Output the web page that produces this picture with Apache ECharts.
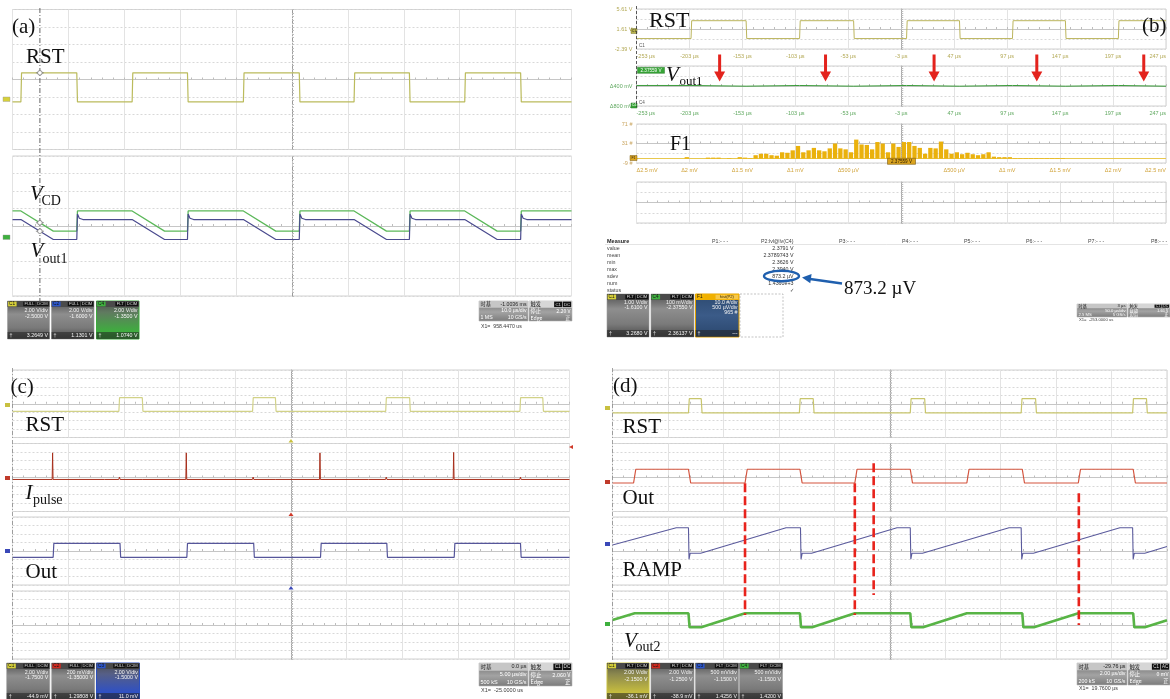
<!DOCTYPE html>
<html>
<head>
<meta charset="utf-8">
<script src="https://cdn.jsdelivr.net/npm/echarts@6/dist/echarts.min.js"></script>
<style>
html,body{margin:0;padding:0;background:#fff;}
#chart{width:1170px;height:699px;}
</style>
</head>
<body>
<div id="chart"></div>
<script>
// ======================= DATA =======================
// (a) 10 µs/div, time measured from the left screen edge (µs), volts
const A_T_END_US = 100;
const A_RST_RISE_US = [1.5, 21.4, 41.3, 61.1, 80.9];
const A_RST_FALL_US = [11.5, 31.3, 51.3, 71.0, 90.9];
const A_RST_V = [-0.06, 3.26];          // low, high
const A_VCD_V = [0.77, 3.07];           // low, high
const A_VOUT1_V = [0.06, 2.34];         // low, high
const A_VOUT1_PEAK_V = 2.97;            // overshoot right after RST falls
const A_DISCHARGE_US = 5.8;             // length of the falling ramp after RST rises
const A_CURSOR_US = 4.9;
const A_SCALE = { rst: [2, -2.5], vout1: [2, -1.6], vcd: [2, -1.35] }; // [V/div, offset V]

// (b) 50 µs/div
const B_T_START_US = -253, B_T_END_US = 247;
const B_TIME_TICKS = ['-253 µs','-203 µs','-153 µs','-103 µs','-53 µs','-3 µs','47 µs','97 µs','147 µs','197 µs','247 µs'];
const B_RST_RISE_US = [-201.5, -99, 2, 102, 202];
const B_RST_FALL_US = [-149.5, -48, 52, 152];
const B_RST_V = [-0.3, 3.27];
const B_VOUT1_V = [2.386, 2.372];       // while RST low, while RST high
const B_ARROW_US = [-174.5, -74.5, 28, 125, 226];
const B_SCALE = { rst: [1, -1.61], vout1: [0.1, -2.3755] };
const B_RST_YTICKS = ['-2.39 V', '1.61 V', '5.61 V'];
const B_VOUT1_YTICKS = ['Δ800 mV', 'Δ400 mV', ''];
const B_HIST_YTICKS = ['-9 #', '31 #', '71 #'];
const B_HIST_XTICKS = ['Δ2.5 mV','Δ2 mV','Δ1.5 mV','Δ1 mV','Δ500 µV','','Δ500 µV','Δ1 mV','Δ1.5 mV','Δ2 mV','Δ2.5 mV'];
const B_HIST_FIRST_BIN_MV = -2.5, B_HIST_BIN_MV = 0.05;
const B_HIST_COUNT_RANGE = [-9, 71];
const B_HIST_COUNTS = [
  0,0,0,0,0,0,0,0,0,3,
  0,0,0,2,2,2,0,1,0,3,
  2,1,7,10,10,7,6,13,12,17,
  26,13,17,22,17,15,21,31,21,19,
  13,39,29,28,19,34,31,13,31,24,
  34,34,26,22,10,22,21,35,19,10,
  13,9,12,9,7,9,13,4,3,3,
  3,1,1,1,1,1,1,1,1,1,
  1,0,0,0,0,0,0,0,0,0,
  0,0,0,0,0,0,0,0,0,0];
const B_MEAS_COLS = ['P1:- - -','P2:lvl@lv(C4)','P3:- - -','P4:- - -','P5:- - -','P6:- - -','P7:- - -','P8:- - -'];
const B_MEAS_ROWS = ['value','mean','min','max','sdev','num','status'];
const B_MEAS_P2 = ['2.3791 V','2.3789743 V','2.3626 V','2.3940 V','873.2 µV','1.4360e+3','✓'];

// (c) 5 µs/div
const C_T_END_US = 50;
const C_RST_RISE_US = [9.55, 21.55, 33.5, 45.55];
const C_RST_FALL_US = [11.65, 23.6, 35.65, 47.6];
const C_RST_V = [-0.045, 3.19];
const C_IPULSE_BASE_V = 1.304;
const C_IPULSE_SPIKE_US = [3.6, 15.6, 27.6, 39.6];
const C_IPULSE_SPIKE_V = [1.93, 1.93, 1.93, 1.94];
const C_IPULSE_BLIP_US = [8.3, 9.6, 11.7, 17.0, 21.6, 23.7, 32.0, 33.55, 35.7, 45.6, 48.3];
const C_IPULSE_BLIP_V = [1.33, 1.36, 1.27, 1.33, 1.36, 1.27, 1.33, 1.36, 1.27, 1.36, 1.33];
const C_OUT_RISE_US = [3.65, 15.65, 27.65, 39.65];
const C_OUT_FALL_US = [9.65, 21.65, 33.6, 45.6];
const C_OUT_V = [0.011, 3.3];
const C_SCALE = { rst: [2, -1.75], ipulse: [0.2, -1.35], out: [2, -1.5] };

// (d) 2 µs/div
const D_T_END_US = 20;
const D_RST_RISE_US = [2.74, 6.74, 10.74, 14.74, 18.76];
const D_RST_FALL_US = [3.2, 7.24, 11.26, 15.26, 19.26];
const D_RST_V = [-0.036, 3.35];
const D_OUT_RISE_US = [0.76, 4.78, 8.74, 12.78, 16.8];
const D_OUT_FALL_US = [2.74, 6.76, 10.74, 14.78, 18.78];
const D_OUT_V = [-0.039, 3.19];
const D_RAMP_T_US = [0, 2.30, 2.74, 2.76, 2.80, 3.18, 6.26, 6.78, 6.80, 6.84, 7.18, 10.26, 10.74, 10.76, 10.80, 11.18, 14.30, 14.74, 14.76, 14.80, 15.18, 18.30, 18.76, 18.78, 18.82, 19.20, 20];
const D_RAMP_V    = [1.505, 2.52, 2.52, 0.665, 1.015, 1.015, 2.52, 2.52, 0.665, 1.015, 1.015, 2.52, 2.52, 0.665, 1.015, 1.015, 2.52, 2.52, 0.665, 1.015, 1.015, 2.52, 2.52, 0.665, 1.015, 1.015, 1.41];
const D_VOUT2_T_US = [0, 0.8, 2.74, 2.78, 3.2, 4.78, 6.76, 6.80, 7.2, 8.74, 10.74, 10.78, 11.2, 12.78, 14.78, 14.82, 15.2, 16.8, 18.78, 18.82, 19.2, 20];
const D_VOUT2_V    = [1.445, 1.84, 1.84, 1.015, 1.015, 1.84, 1.84, 1.015, 1.015, 1.84, 1.84, 1.015, 1.015, 1.84, 1.84, 1.015, 1.015, 1.84, 1.84, 1.015, 1.015, 1.43];
const D_MARK_US = [4.78, 8.74, 9.42, 16.82];
const D_MARK_TOP_OUT_V = [-0.13, -0.13, 4.59, -2.47];
const D_MARK_BOTTOM_VOUT2_V = [1.74, 1.74, 2.91, 1.15];
const D_SCALE = { rst: [2, -2.15], out: [2, -1.25], ramp: [0.5, -1.15], vout2: [0.5, -1.15] };

// ======================= LAYOUT / STYLE =======================
const SERIF = '"Liberation Serif", "Times New Roman", serif';
const SANS = '"Liberation Sans", Arial, sans-serif';
const CJK = '"Noto Sans CJK SC", "Liberation Sans", sans-serif';
const L = {
  a: { left: 12.5, width: 559, tops: [9.5, 156], heights: [140, 140] },
  b: { left: 636.5, width: 529.5, tops: [9, 66, 124, 182], heights: [40, 40, 39, 41] },
  c: { left: 12.5, width: 557, tops: [370, 443.5, 517, 591], heights: [67.5, 68, 68, 68] },
  d: { left: 612.5, width: 554.5, tops: [370, 443.5, 517, 591], heights: [67.5, 68, 68, 68] }
};

const grids = [], xAxes = [], yAxes = [], series = [], G = [];
const tickStyle = { color: '#bdbdbd', width: 1 };

function addGrid(p, i, o) {
  o = o || {};
  const gi = grids.length;
  grids.push({ left: p.left, top: p.tops[i], width: p.width, height: p.heights[i], show: true,
    backgroundColor: '#fff', borderColor: '#d0d0d0', borderWidth: 1, containLabel: false, outerBoundsMode: 'none' });
  const xDiv = xAxes.length, yDiv = yAxes.length;
  xAxes.push({ gridIndex: gi, type: 'value', min: -5, max: 5, interval: 1, position: 'bottom', silent: true,
    axisLine: { show: true, onZero: true, onZeroAxisIndex: yDiv, lineStyle: { color: '#c6c6c6', width: 1 } },
    axisTick: { show: true, inside: true, length: 2, lineStyle: tickStyle },
    minorTick: { show: true, splitNumber: 5, length: 2, lineStyle: tickStyle },
    axisLabel: { show: false },
    splitLine: { show: true, lineStyle: { color: '#e3e3e3', width: 1 } } });
  yAxes.push({ gridIndex: gi, type: 'value', min: -4, max: 4, interval: o.ystep || 1, position: 'left', silent: true,
    axisLine: { show: true, onZero: true, onZeroAxisIndex: xDiv, lineStyle: { color: o.vColor || '#b2b2b2', width: 1, type: o.vType || 'solid' } },
    axisTick: { show: true, inside: true, length: 2, lineStyle: tickStyle },
    minorTick: { show: true, splitNumber: 5, length: 2, lineStyle: tickStyle },
    axisLabel: { show: false },
    splitLine: { show: true, lineStyle: { color: '#d8d8d8', width: 1, type: [2, 2] } } });
  return gi;
}
function addX(gi, min, max) { xAxes.push({ gridIndex: gi, type: 'value', min, max, show: false, axisLine: { onZero: false } }); return xAxes.length - 1; }
function addYRange(gi, min, max) { yAxes.push({ gridIndex: gi, type: 'value', min, max, show: false, axisLine: { onZero: false } }); return yAxes.length - 1; }
function addY(gi, sc) { const c = -sc[1], d = sc[0]; return addYRange(gi, c - 4 * d, c + 4 * d); }
function addXLabels(gi, ticks, color) {
  xAxes.push({ gridIndex: gi, type: 'value', min: 0, max: ticks.length - 1, interval: 1, position: 'bottom', silent: true,
    axisLine: { show: false, onZero: false }, axisTick: { show: false }, splitLine: { show: false },
    axisLabel: { show: true, margin: 4, fontSize: 5.5, color, fontFamily: SANS, showMinLabel: true, showMaxLabel: true,
      alignMinLabel: 'left', alignMaxLabel: 'right', formatter: v => ticks[Math.round(v)] || '' } });
}
function addYLabels(gi, ticks, color) {
  yAxes.push({ gridIndex: gi, type: 'value', min: 0, max: ticks.length - 1, interval: 1, position: 'left', silent: true,
    axisLine: { show: false, onZero: false }, axisTick: { show: false }, splitLine: { show: false },
    axisLabel: { show: true, margin: 4, fontSize: 5.5, color, fontFamily: SANS, formatter: v => ticks[Math.round(v)] || '' } });
}
function line(xi, yi, data, color, width, extra) {
  series.push(Object.assign({ type: 'line', xAxisIndex: xi, yAxisIndex: yi, data, showSymbol: false, symbol: 'none',
    silent: true, animation: false, z: 5, lineStyle: { color, width: width || 1.1 } }, extra || {}));
}

// ---------- trace builders ----------
function zip(ts, vs) { return ts.map((t, i) => [t, vs[i]]); }
function squarePts(t0, t1, rises, falls, lo, hi, edge) {
  const ev = rises.map(t => [t, 1]).concat(falls.map(t => [t, 0])).sort((a, b) => a[0] - b[0]);
  let lvl = ev[0][1] ? lo : hi;
  const pts = [[t0, lvl]];
  ev.forEach(e => { const nl = e[1] ? hi : lo; pts.push([e[0], lvl], [e[0] + edge, nl]); lvl = nl; });
  pts.push([t1, lvl]);
  return pts;
}
function aDischarge(lv, peak) {
  const ev = A_RST_RISE_US.map(t => [t, 1]).concat(A_RST_FALL_US.map(t => [t, 0])).sort((a, b) => a[0] - b[0]);
  const pts = [[0, lv[1]]]; let lvl = lv[1];
  ev.forEach(e => {
    const t = e[0];
    if (e[1]) { pts.push([t, lv[1]], [t + A_DISCHARGE_US, lv[0]]); lvl = lv[0]; }
    else {
      pts.push([t, lv[0]]);
      if (peak != null) pts.push([t + 0.12, peak], [t + 0.45, lv[1] + 0.15], [t + 1.1, lv[1]]);
      else pts.push([t + 0.12, lv[1]]);
      lvl = lv[1];
    }
  });
  pts.push([A_T_END_US, lvl]);
  return pts;
}
function pulsePts() {
  const ev = C_IPULSE_SPIKE_US.map((t, i) => [t, C_IPULSE_SPIKE_V[i], 0.04])
    .concat(C_IPULSE_BLIP_US.map((t, i) => [t, C_IPULSE_BLIP_V[i], 0.06])).sort((a, b) => a[0] - b[0]);
  const pts = [[0, C_IPULSE_BASE_V]];
  ev.forEach(e => pts.push([e[0] - e[2], C_IPULSE_BASE_V], [e[0], e[1]], [e[0] + e[2], C_IPULSE_BASE_V]));
  pts.push([C_T_END_US, C_IPULSE_BASE_V]);
  return pts;
}
function interp(pts, t) {
  for (let i = 1; i < pts.length; i++) {
    if (pts[i][0] >= t) { const a = pts[i - 1], b = pts[i]; const f = b[0] === a[0] ? 1 : (t - a[0]) / (b[0] - a[0]); return a[1] + f * (b[1] - a[1]); }
  }
  return pts[pts.length - 1][1];
}

// ======================= PANEL (a) =======================
const A1 = addGrid(L.a, 0, { vType: [4, 2, 1, 2], vColor: '#9a9a9a' });
const A1x = addX(A1, 0, A_T_END_US), A1y = addY(A1, A_SCALE.rst);
const aRst = squarePts(0, A_T_END_US, A_RST_RISE_US, A_RST_FALL_US, A_RST_V[0], A_RST_V[1], 0.12);
line(A1x, A1y, aRst, '#bbbb5c', 1.2);
const A2 = addGrid(L.a, 1, { vType: [4, 2, 1, 2], vColor: '#9a9a9a' });
const A2x = addX(A2, 0, A_T_END_US), A2yC = addY(A2, A_SCALE.vcd), A2yV = addY(A2, A_SCALE.vout1);
const aVcd = aDischarge(A_VCD_V, null), aV1 = aDischarge(A_VOUT1_V, A_VOUT1_PEAK_V);
line(A2x, A2yC, aVcd, '#5cb85a', 1.3);
line(A2x, A2yV, aV1, '#4a4a8e', 1.2);

// ======================= PANEL (b) =======================
const B1 = addGrid(L.b, 0, { ystep: 2, vColor: '#a8a8a8' });
const B1x = addX(B1, B_T_START_US, B_T_END_US), B1y = addY(B1, B_SCALE.rst);
line(B1x, B1y, squarePts(B_T_START_US, B_T_END_US, B_RST_RISE_US, B_RST_FALL_US, B_RST_V[0], B_RST_V[1], 0.6), '#bcb55e', 1);
addXLabels(B1, B_TIME_TICKS, '#b3a955'); addYLabels(B1, B_RST_YTICKS, '#b3a955');

const B2 = addGrid(L.b, 1, { ystep: 2, vColor: '#a8a8a8' });
const B2x = addX(B2, B_T_START_US, B_T_END_US), B2y = addY(B2, B_SCALE.vout1);
line(B2x, B2y, squarePts(B_T_START_US, B_T_END_US, B_RST_RISE_US, B_RST_FALL_US, B_VOUT1_V[0], B_VOUT1_V[1], 0.6), '#3a9c3a', 1, {
  markPoint: { silent: true, symbol: 'path://M4,0 L7,0 L7,17 L11,17 L5.5,27 L0,17 L4,17 Z', symbolSize: [11, 27], symbolOffset: [0, -18],
    symbolKeepAspect: false, itemStyle: { color: '#e3231d' }, label: { show: false },
    data: B_ARROW_US.map(t => ({ coord: [t, -B_SCALE.vout1[1]] })) } });
addXLabels(B2, B_TIME_TICKS, '#5fa85f'); addYLabels(B2, B_VOUT1_YTICKS, '#5fa85f');

const B3 = addGrid(L.b, 2, { ystep: 2, vColor: '#a8a8a8' });
const B3x = addX(B3, B_HIST_FIRST_BIN_MV, B_HIST_FIRST_BIN_MV + B_HIST_COUNTS.length * B_HIST_BIN_MV);
const B3y = addYRange(B3, B_HIST_COUNT_RANGE[0], B_HIST_COUNT_RANGE[1]);
series.push({ type: 'bar', xAxisIndex: B3x, yAxisIndex: B3y, silent: true, animation: false, barWidth: 4.3, z: 5,
  itemStyle: { color: '#eab10c' },
  data: B_HIST_COUNTS.map((c, i) => [B_HIST_FIRST_BIN_MV + (i + 0.5) * B_HIST_BIN_MV, c]),
  markLine: { silent: true, symbol: 'none', label: { show: false }, lineStyle: { color: '#e8c84e', width: 1, type: 'solid' }, data: [{ yAxis: 0 }] } });
addXLabels(B3, B_HIST_XTICKS, '#d0a33a'); addYLabels(B3, B_HIST_YTICKS, '#c9a45e');

const B4 = addGrid(L.b, 3, { ystep: 2, vColor: '#a8a8a8' });

// ======================= PANEL (c) =======================
const C1 = addGrid(L.c, 0, { vColor: '#a0a0a0' });
const C1x = addX(C1, 0, C_T_END_US), C1y = addY(C1, C_SCALE.rst);
line(C1x, C1y, squarePts(0, C_T_END_US, C_RST_RISE_US, C_RST_FALL_US, C_RST_V[0], C_RST_V[1], 0.06), '#d2d288', 1.2);
const C2 = addGrid(L.c, 1, { vColor: '#a0a0a0' });
const C2x = addX(C2, 0, C_T_END_US), C2y = addY(C2, C_SCALE.ipulse);
line(C2x, C2y, pulsePts(), '#a8301d', 1);
const C3 = addGrid(L.c, 2, { vColor: '#a0a0a0' });
const C3x = addX(C3, 0, C_T_END_US), C3y = addY(C3, C_SCALE.out);
line(C3x, C3y, squarePts(0, C_T_END_US, C_OUT_RISE_US, C_OUT_FALL_US, C_OUT_V[0], C_OUT_V[1], 0.06), '#56569a', 1.2);
const C4 = addGrid(L.c, 3, { vColor: '#a0a0a0' });

// ======================= PANEL (d) =======================
const D1 = addGrid(L.d, 0, { vColor: '#a0a0a0' });
const D1x = addX(D1, 0, D_T_END_US), D1y = addY(D1, D_SCALE.rst);
line(D1x, D1y, squarePts(0, D_T_END_US, D_RST_RISE_US, D_RST_FALL_US, D_RST_V[0], D_RST_V[1], 0.03), '#c8c56c', 1.2);
const D2 = addGrid(L.d, 1, { vColor: '#a0a0a0' });
const D2x = addX(D2, 0, D_T_END_US), D2y = addY(D2, D_SCALE.out);
line(D2x, D2y, squarePts(0, D_T_END_US, D_OUT_RISE_US, D_OUT_FALL_US, D_OUT_V[0], D_OUT_V[1], 0.08), '#d4553f', 1.2);
const D3 = addGrid(L.d, 2, { vColor: '#a0a0a0' });
const D3x = addX(D3, 0, D_T_END_US), D3y = addY(D3, D_SCALE.ramp);
line(D3x, D3y, zip(D_RAMP_T_US, D_RAMP_V), '#5a5a9c', 1.1);
const D4 = addGrid(L.d, 3, { vColor: '#a0a0a0' });
const D4x = addX(D4, 0, D_T_END_US), D4y = addY(D4, D_SCALE.vout2);
line(D4x, D4y, zip(D_VOUT2_T_US, D_VOUT2_V), '#58b446', 2.6);

// ======================= GRAPHIC HELPERS =======================
function lin(stops) { return { type: 'linear', x: 0, y: 0, x2: 0, y2: 1, colorStops: stops.map(s => ({ color: s[0], offset: s[1] })) }; }
function font(size, family, italic, bold) { return (italic ? 'italic ' : '') + (bold ? 'bold ' : '') + size + 'px ' + family; }
function T(x, y, s, o) {
  o = o || {}; const al = o.align || 'left', va = o.va || 'middle';
  return { type: 'text', x, y, silent: true, z: o.z || 20,
    style: { text: s, fill: o.fill || '#111', font: font(o.size || 6, o.family || SANS, o.italic, o.bold),
      align: al, verticalAlign: va, textAlign: al, textVerticalAlign: va } };
}
function R(x, y, w, h, fill, stroke, lw, dash, z) {
  return { type: 'rect', silent: true, z: z || 15, shape: { x, y, width: w, height: h },
    style: { fill: fill || 'none', stroke: stroke || null, lineWidth: lw || 0.6, lineDash: dash || null } };
}
function Ln(x1, y1, x2, y2, stroke, lw, dash, z) {
  return { type: 'line', silent: true, z: z || 18, shape: { x1, y1, x2, y2 }, style: { stroke, lineWidth: lw || 1, lineDash: dash || null } };
}
const BODY = {
  gray: lin([['#4c4c4c', 0], ['#8e8e8e', 0.35], ['#7a7a7a', 0.7], ['#474747', 1]]),
  green: lin([['#4c4c4c', 0], ['#607a60', 0.3], ['#3eae3e', 0.8], ['#2f942f', 1]]),
  blue: lin([['#4c4c4c', 0], ['#565f86', 0.3], ['#2e50c6', 0.8], ['#2443a8', 1]]),
  yellow: lin([['#56563f', 0], ['#8a874e', 0.3], ['#c8bf3e', 0.8], ['#a69e30', 1]]),
  navy: lin([['#2d4a70', 0], ['#3b5b88', 0.5], ['#2a466c', 1]])
};
function chBox(x, y, w, h, o) {
  const fs = o.fs || 5.3, hh = 6;
  G.push(R(x, y, w, h, BODY[o.body || 'gray'], o.stroke || '#9c9c9c', o.stroke ? 1 : 0.6));
  G.push(R(x, y, w, hh, o.hdrFill || '#4a4a4a'));
  G.push(R(x + 0.6, y + 0.6, 8.5, hh - 1.2, o.color));
  G.push(T(x + 1.6, y + hh / 2, o.ch, { size: fs - 0.6, fill: '#161616' }));
  let tx = x + w - 0.8;
  o.tags.slice().reverse().forEach(tag => {
    const tw = tag.length * (fs - 1) * 0.6 + 2;
    G.push(R(tx - tw, y + 0.8, tw, hh - 1.6, o.tagFill || '#111'));
    G.push(T(tx - tw / 2, y + hh / 2, tag, { size: fs - 1.2, fill: o.tagText || '#d8d8d8', align: 'center' }));
    tx -= tw + 0.8;
  });
  o.lines.forEach((s, i) => G.push(T(x + w - 1.5, y + o.rows[i], s, { size: fs, fill: '#f4f4f4', align: 'right' })));
  G.push(R(x, y + h - 7, w, 7, 'rgba(35,35,35,0.55)'));
  G.push(T(x + 2, y + h - 3.5, '†', { size: fs, fill: '#eee' }));
  G.push(T(x + w - 1.5, y + h - 3.5, o.bottom, { size: fs, fill: '#f4f4f4', align: 'right' }));
}
function status(x, y, w1, w2, h, r1, r2, tags, x1text, fs, x1y) {
  const rh = h / 3, x2 = x + w1 + 1;
  G.push(R(x, y, w1, h, lin([['#6a6a6a', 0], ['#a3a3a3', 0.55], ['#7b7b7b', 1]]), '#b5b5b5'));
  G.push(R(x, y, w1, rh, '#c6c6c6'));
  G.push(T(x + 1.5, y + rh / 2, r1[0][0], { size: fs, fill: '#222', family: CJK }));
  G.push(T(x + w1 - 1.5, y + rh / 2, r1[0][1], { size: fs, fill: '#222', align: 'right' }));
  G.push(T(x + w1 - 1.5, y + rh * 1.5, r1[1][1], { size: fs, fill: '#fff', align: 'right' }));
  G.push(T(x + 1.5, y + rh * 2.5, r1[2][0], { size: fs, fill: '#fff' }));
  G.push(T(x + w1 - 1.5, y + rh * 2.5, r1[2][1], { size: fs, fill: '#fff', align: 'right' }));
  G.push(R(x2, y, w2, h, lin([['#6a6a6a', 0], ['#a3a3a3', 0.55], ['#7b7b7b', 1]]), '#b5b5b5'));
  G.push(R(x2, y, w2, rh, '#d6d6d6'));
  G.push(T(x2 + 1.5, y + rh / 2, r2[0][0], { size: fs, fill: '#222', family: CJK }));
  let tx = x2 + w2 - 0.8;
  tags.slice().reverse().forEach(tag => {
    const tw = tag.length * fs * 0.6 + 2;
    G.push(R(tx - tw, y + 0.6, tw, rh - 1.2, '#111'));
    G.push(T(tx - tw / 2, y + rh / 2, tag, { size: fs - 0.8, fill: '#ddd', align: 'center' }));
    tx -= tw + 0.6;
  });
  for (let k = 1; k < 3; k++) {
    G.push(T(x2 + 1.5, y + rh * (k + 0.5), r2[k][0], { size: fs, fill: '#fff', family: CJK }));
    G.push(T(x2 + w2 - 1.5, y + rh * (k + 0.5), r2[k][1], { size: fs, fill: '#fff', align: 'right', family: CJK }));
  }
  G.push(T(x + 2, x1y, x1text, { size: fs, fill: '#3a3a3a' }));
}
function serifLabel(x, y, s, size, italic) { G.push(T(x, y, s, { size: size || 21, family: SERIF, italic, fill: '#111', z: 22 })); }

// ---------- texts ----------
serifLabel(12, 27, '(a)'); serifLabel(26, 57, 'RST');
serifLabel(30, 194.5, 'V', 21, true); serifLabel(41.5, 201.5, 'CD', 14);
serifLabel(30.5, 251.5, 'V', 21, true); serifLabel(42.5, 259, 'out1', 14);

serifLabel(649, 21, 'RST', 22); serifLabel(1142, 26.5, '(b)');
serifLabel(666, 75.5, 'V', 21, true); serifLabel(679.5, 82, 'out1', 13);
serifLabel(670, 144.5, 'F1', 20);
serifLabel(844, 289.5, '873.2 µV', 19);

serifLabel(10.5, 387.5, '(c)'); serifLabel(25.5, 425.5, 'RST');
serifLabel(25.5, 493.5, 'I', 21, true); serifLabel(33, 500.5, 'pulse', 14);
serifLabel(25.5, 572.5, 'Out');

serifLabel(613, 386.5, '(d)'); serifLabel(622.5, 427.5, 'RST');
serifLabel(622.5, 498.3, 'Out'); serifLabel(622.5, 570.5, 'RAMP');
serifLabel(624, 641, 'V', 21, true); serifLabel(635.5, 647.5, 'out2', 14);

// ---------- (b) tags, markers, measure table ----------
G.push(R(637.5, 67.3, 27, 6, '#37a537', '#2a7a2a', 0.5)); G.push(T(651, 70.3, '2.37559 V', { size: 4.6, fill: '#fff', align: 'center' }));
G.push(R(887.5, 158.3, 28, 6, '#dba41e', '#7a5a10', 0.6)); G.push(T(901.5, 161.3, '2.37559 V', { size: 4.6, fill: '#2a1a00', align: 'center' }));
G.push(R(631, 28.5, 6, 5, '#b9b44e', '#7a7630', 0.5)); G.push(T(634, 31, 'C1', { size: 3.5, fill: '#222', align: 'center' }));
G.push(R(631, 103, 6, 5, '#37a537', '#2a7a2a', 0.5)); G.push(T(634, 105.5, 'C4', { size: 3.5, fill: '#fff', align: 'center' }));
G.push(R(630, 155.5, 7, 5, '#e0a820', '#7a5a10', 0.5)); G.push(T(633.5, 158, 'F1', { size: 3.5, fill: '#222', align: 'center' }));
G.push(T(639, 46, 'C1', { size: 4.5, fill: '#555' })); G.push(T(639, 103, 'C4', { size: 4.5, fill: '#555' }));
G.push(Ln(636.5, 6, 636.5, 107, '#333', 0.8, [3, 2], 19));

G.push(T(607, 241.5, 'Measure', { size: 5.5, fill: '#222', bold: true }));
G.push(Ln(605, 244.5, 1168, 244.5, '#c8c8c8', 0.5));
const colX = [712, 793.5, 839, 902, 964, 1026, 1088, 1151];
B_MEAS_COLS.forEach((s, i) => G.push(T(colX[i], 241.5, s, { size: 5.3, fill: '#444', align: i === 1 ? 'right' : 'left' })));
B_MEAS_ROWS.forEach((s, i) => {
  G.push(T(607, 249 + i * 7, s, { size: 5.3, fill: '#444' }));
  G.push(T(793.5, 249 + i * 7, B_MEAS_P2[i], { size: 5.3, fill: '#333', align: 'right' }));
});
G.push({ type: 'ellipse', silent: true, z: 26, shape: { cx: 781.5, cy: 276, rx: 17.5, ry: 5.2 }, style: { fill: 'none', stroke: '#1f5fae', lineWidth: 2.4 } });
G.push(Ln(842, 283.5, 810, 279, '#1f5fae', 2.4, null, 26));
G.push({ type: 'polygon', silent: true, z: 26, shape: { points: [[802, 277.6], [811.6, 273.9], [810.3, 283.3]] }, style: { fill: '#1f5fae' } });

// ---------- channel boxes ----------
chBox(7.5, 301, 42, 38, { ch: 'C1', color: '#d6d03a', tags: ['FULL', 'DCIM'], lines: ['2.00 V/div', '-2.5000 V'], rows: [10, 15.5], bottom: '3.2649 V' });
chBox(51.5, 301, 42.5, 38, { ch: 'C2', color: '#2c55c8', tags: ['FULL', 'DCIM'], lines: ['2.00 V/div', '-1.6000 V'], rows: [10, 15.5], bottom: '1.1301 V' });
chBox(96.5, 301, 42.5, 38, { ch: 'C4', color: '#3eb03e', tags: ['FLT', 'DCIM'], lines: ['2.00 V/div', '-1.3500 V'], rows: [10, 15.5], bottom: '1.0740 V', body: 'green', stroke: '#3eaa3e' });

chBox(607, 294, 42, 43, { ch: 'C1', color: '#d6d03a', tags: ['FLT', 'DCIM'], lines: ['1.00 V/div', '-1.6100 V'], rows: [9, 14], bottom: '3.2680 V' });
chBox(651, 294, 43, 43, { ch: 'C4', color: '#3eb03e', tags: ['FLT', 'DCIM'], lines: ['100 mV/div', '-2.37550 V'], rows: [9, 14], bottom: '2.36137 V' });
chBox(695.5, 294, 43.5, 43, { ch: 'F1', color: '#f2b400', hdrFill: '#f0b000', tags: ['hist(P2)'], tagFill: '#f7c84a', tagText: '#3a2a00',
  lines: ['10.0 #/div', '500 µV/div', '965 #'], rows: [9, 14, 19], bottom: '---', body: 'navy', stroke: '#e0a000' });
G.push(R(740, 294, 43, 43, 'none', '#9a9a9a', 0.6, [2, 1.5]));

chBox(6.7, 663, 43, 37, { ch: 'C1', color: '#d6d03a', tags: ['FULL', 'DCIM'], lines: ['2.00 V/div', '-1.7500 V'], rows: [9.7, 14.7], bottom: '-44.9 mV' });
chBox(51.7, 663, 43, 37, { ch: 'C2', color: '#d02a20', tags: ['FULL', 'DCIM'], lines: ['200 mV/div', '-1.35000 V'], rows: [9.7, 14.7], bottom: '1.29808 V' });
chBox(96.5, 663, 43, 37, { ch: 'C3', color: '#2c55c8', tags: ['FULL', 'DCIM'], lines: ['2.00 V/div', '-1.5000 V'], rows: [9.7, 14.7], bottom: '11.0 mV', body: 'blue', stroke: '#2c50c0' });

chBox(607, 663, 42, 37, { ch: 'C1', color: '#d6d03a', tags: ['FLT', 'DCIM'], lines: ['2.00 V/div', '-2.1500 V'], rows: [10, 16.5], bottom: '-36.1 mV', body: 'yellow', stroke: '#c8c040' });
chBox(651, 663, 43, 37, { ch: 'C2', color: '#d02a20', tags: ['FLT', 'DCIM'], lines: ['2.00 V/div', '-1.2500 V'], rows: [10, 16.5], bottom: '-38.9 mV' });
chBox(695.5, 663, 43, 37, { ch: 'C3', color: '#2c55c8', tags: ['FLT', 'DCIM'], lines: ['500 mV/div', '-1.1500 V'], rows: [10, 16.5], bottom: '1.4256 V' });
chBox(739.5, 663, 43, 37, { ch: 'C4', color: '#3eb03e', tags: ['FLT', 'DCIM'], lines: ['500 mV/div', '-1.1500 V'], rows: [10, 16.5], bottom: '1.4200 V' });

status(479, 301, 49, 43, 20, [['时基', '-1.0036 ms'], ['', '10.0 µs/div'], ['1 MS', '10 GS/s']], [['触发', ''], ['停止', '2.20 V'], ['Edge', '正']], ['C1', 'DC'], 'X1=  958.4470 us', 5.2, 326.5);
status(1077, 304, 50, 42, 13, [['时基', '3 µs'], ['', '50.0 µs/div'], ['2.5 MS', '5 GS/s']], [['触发', ''], ['自动', '1.61 V'], ['边沿', '正']], ['C1', 'DC'], 'X1=  -253.0000 us', 4.2, 320);
status(479, 663, 49, 43, 23, [['时基', '0.0 µs'], ['', '5.00 µs/div'], ['500 kS', '10 GS/s']], [['触发', ''], ['停止', '2.060 V'], ['Edge', '正']], ['C1', 'DC'], 'X1=  -25.0000 us', 5.5, 690);
status(1077, 663, 50, 42, 22, [['时基', '-29.76 µs'], ['', '2.00 µs/div'], ['200 kS', '10 GS/s']], [['触发', ''], ['停止', '0 mV'], ['Edge', '正']], ['C1', 'AC'], 'X1=  19.7600 µs', 5.3, 688.5);

// ---------- small scope markers ----------
G.push(R(3, 97, 7, 4.5, '#d6d03a', '#999', 0.4)); G.push(R(3, 235, 7, 4.5, '#3eb03e', '#999', 0.4));
G.push(Ln(12.5, 368, 12.5, 660, '#8a8a8a', 0.8, [4, 2, 1, 2], 19));
G.push(Ln(612.5, 368, 612.5, 662, '#8a8a8a', 0.8, [4, 2, 1, 2], 19));
[[441, '#c8c040'], [514.5, '#d03a2a'], [588, '#3a48b8']].forEach(e =>
  G.push({ type: 'polygon', silent: true, z: 16, shape: { points: [[288.5, e[0] + 1.5], [293.5, e[0] + 1.5], [291, e[0] - 2]] }, style: { fill: e[1] } }));
G.push({ type: 'polygon', silent: true, z: 16, shape: { points: [[569, 447], [573, 445], [573, 449]] }, style: { fill: '#d03a2a' } });
[[7, 405, '#c8c040'], [7, 478, '#c03a2a'], [7, 551, '#3a48b8'], [607, 408, '#c8c040'], [607, 482, '#c03a2a'], [607, 544, '#3a48b8'], [607, 624, '#3eb03e']].forEach(e =>
  G.push(R(e[0] - 2, e[1] - 2, 5, 4, e[2], null, 0.4)));

// ======================= RENDER =======================
const chart = echarts.init(document.getElementById('chart'), null, { renderer: 'canvas', width: 1170, height: 699 });
chart.setOption({ animation: false, backgroundColor: '#ffffff', textStyle: { fontFamily: SANS },
  grid: grids, xAxis: xAxes, yAxis: yAxes, series });

const P = (xi, yi, x, y) => chart.convertToPixel({ xAxisIndex: xi, yAxisIndex: yi }, [x, y]);
// (a) cursor and its crosshairs
const cx = P(A1x, A1y, A_CURSOR_US, 0)[0];
G.push(Ln(cx, 8, cx, 302, '#555', 0.9, [5, 2, 1, 2], 24));
[[A1x, A1y, aRst], [A2x, A2yC, aVcd], [A2x, A2yV, aV1]].forEach(e => {
  const p = P(e[0], e[1], A_CURSOR_US, interp(e[2], A_CURSOR_US));
  G.push(Ln(p[0] - 4, p[1], p[0] + 4, p[1], '#777', 0.8, null, 25));
  G.push({ type: 'circle', silent: true, z: 26, shape: { cx: p[0], cy: p[1], r: 2.3 }, style: { fill: '#fff', stroke: '#777', lineWidth: 0.8 } });
});
// (d) red dashed guide lines between Out and V_out2
D_MARK_US.forEach((t, i) => {
  const a = P(D2x, D2y, t, D_MARK_TOP_OUT_V[i]);
  const b = P(D4x, D4y, t, D_MARK_BOTTOM_VOUT2_V[i]);
  G.push(Ln(a[0], a[1], b[0], b[1], '#e8231c', 2.6, [9, 4], 30));
});
chart.setOption({ graphic: { elements: G } });
</script>
</body>
</html>
